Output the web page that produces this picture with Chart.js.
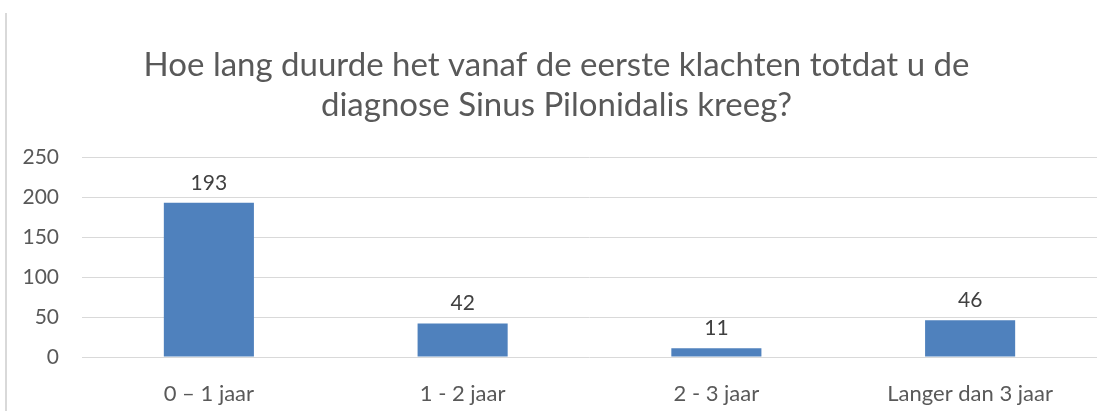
<!DOCTYPE html>
<html>
<head>
<meta charset="utf-8">
<script src="https://cdn.jsdelivr.net/npm/chart.js@4/dist/chart.umd.min.js"></script>
<style>
  html, body { margin: 0; padding: 0; background: #fff; }
  #wrap { position: relative; width: 1113px; height: 412px; }
  #edge { position: absolute; left: 5px; top: 13px; width: 2px; height: 398px; background: #d9d9d9; }
</style>
</head>
<body>
<div id="wrap">
  <div id="edge"></div>
  <canvas id="chart" width="1113" height="412"></canvas>
</div>
<script>
const titleLines = ["Hoe lang duurde het vanaf de eerste klachten totdat u de", "diagnose Sinus Pilonidalis kreeg?"];
const categories = ["0 \u2013 1 jaar", "1 - 2 jaar", "2 - 3 jaar", "Langer dan 3 jaar"];
const counts = [193, 42, 11, 46];
const yMax = 250;
const yStep = 50;

const FONT = "Lato, 'Liberation Sans', sans-serif";

// Value labels above each bar
const barLabels = {
    id: 'barLabels',
    afterDatasetsDraw(chart) {
        const ctx = chart.ctx;
        const meta = chart.getDatasetMeta(0);
        ctx.save();
        ctx.font = "21px " + FONT;
        ctx.fillStyle = '#404040';
        ctx.textAlign = 'center';
        ctx.textBaseline = 'middle';
        meta.data.forEach((bar, i) => {
            ctx.fillText(String(counts[i]), bar.x, bar.y - 20);
        });
        ctx.restore();
    }
};

function draw() {
    const ctx = document.getElementById('chart').getContext('2d');
    new Chart(ctx, {
        type: 'bar',
        data: {
            labels: categories,
            datasets: [{
                data: counts,
                backgroundColor: '#4f81bd',
                categoryPercentage: 1,
                barPercentage: 0.355
            }]
        },
        options: {
            responsive: false,
            animation: false,
            layout: { padding: { left: 16, right: 16, top: 0, bottom: 7 } },
            plugins: {
                legend: { display: false },
                tooltip: { enabled: false },
                title: {
                    display: true,
                    text: titleLines,
                    color: '#595959',
                    font: { family: FONT, size: 33, weight: 'normal', lineHeight: 1.2 },
                    padding: { top: 46, bottom: 32 }
                }
            },
            scales: {
                y: {
                    min: 0,
                    max: yMax,
                    ticks: { stepSize: yStep, color: '#595959', padding: 23, font: { family: FONT, size: 21 } },
                    grid: { color: '#d9d9d9', drawTicks: false },
                    border: { display: false },
                    afterFit(scale) { scale.width = 66; }
                },
                x: {
                    ticks: { color: '#595959', padding: 24, font: { family: FONT, size: 22 } },
                    grid: { display: false, drawTicks: false },
                    border: { display: false },
                    afterFit(scale) { scale.height = 48; }
                }
            }
        },
        plugins: [barLabels]
    });
}

document.fonts.load("20px Lato").then(draw, draw);
</script>
</body>
</html>
